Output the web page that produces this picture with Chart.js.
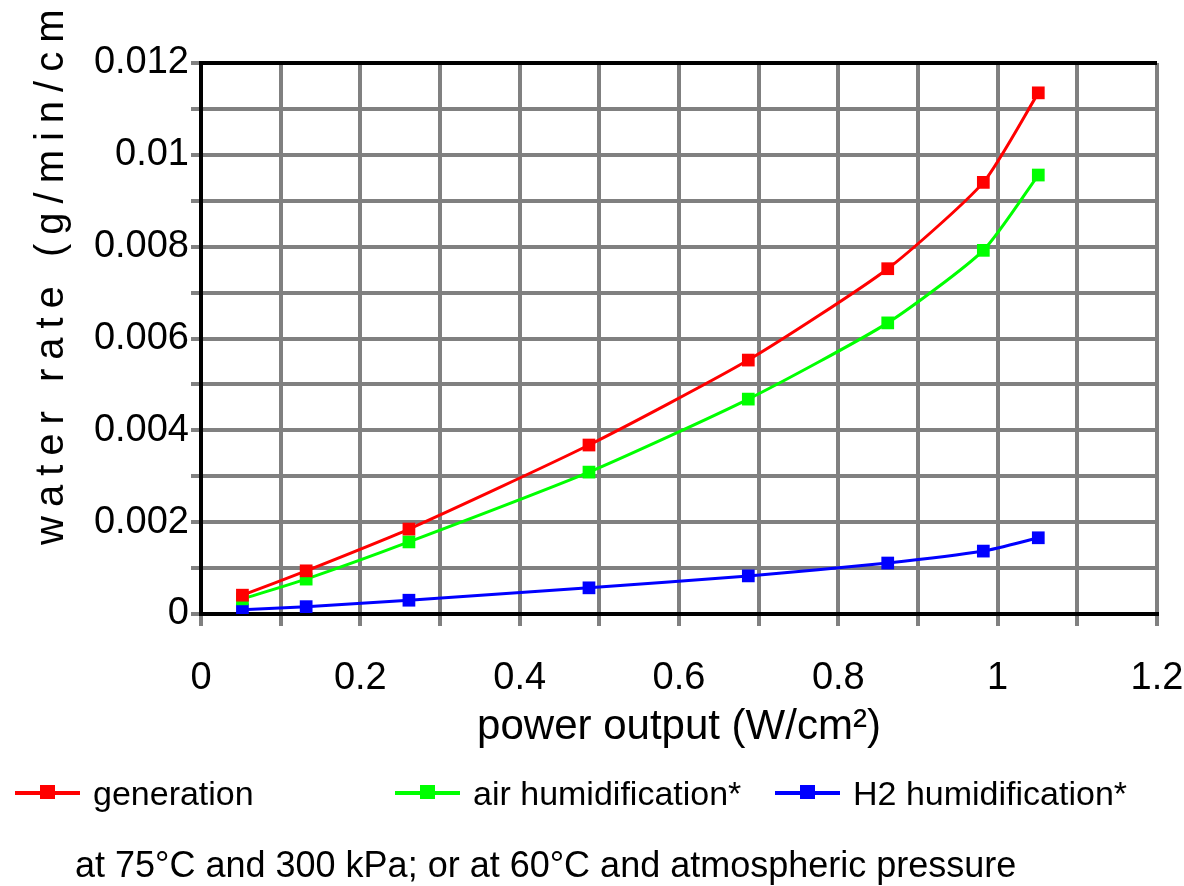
<!DOCTYPE html>
<html>
<head>
<meta charset="utf-8">
<script src="https://cdn.jsdelivr.net/npm/chart.js@4.4.1/dist/chart.umd.min.js"></script>
<style>
  html, body { margin: 0; padding: 0; background: #fff; }
  #wrap { position: relative; width: 1184px; height: 886px; overflow: hidden; }
  #chart { position: absolute; left: 0; top: 0; }
  .leg { position: absolute; top: 772px; height: 42px; font-family: "Liberation Sans", Arial, sans-serif; font-size: 34px; color: #000; white-space: nowrap; }
  .leg .mk { position: absolute; left: 0; top: 19px; width: 65px; height: 4px; }
  .leg .mk i { position: absolute; left: 25px; top: -6px; width: 15px; height: 14px; }
  .leg span { position: absolute; left: 78px; top: 0; line-height: 42px; }
  #note { position: absolute; left: 75px; top: 845px; font-family: "Liberation Sans", Arial, sans-serif; font-size: 36px; line-height: 40px; white-space: nowrap; }
</style>
</head>
<body>
<div id="wrap">
  <canvas id="chart" width="1184" height="886"></canvas>
  <div id="legend"></div>
  <div id="note">at 75°C and 300 kPa; or at 60°C and atmospheric pressure</div>
</div>
<script>
// power output (W/cm2)
const power_Output = [0.052, 0.132, 0.261, 0.487, 0.687, 0.862, 0.982, 1.051];

// water rates (g/min/cm2)
const generation = [0.00041, 0.00094, 0.00185, 0.00368, 0.00553, 0.00752, 0.00940, 0.01135];
const air_Humidification = [0.00033, 0.00076, 0.00157, 0.00309, 0.00468, 0.00634, 0.00792, 0.00956];
const h2_Humidification = [0.00009, 0.00016, 0.00030, 0.00057, 0.00083, 0.00111, 0.00137, 0.00166];

const series_Names = ["generation", "air humidification*", "H2 humidification*"];
const series_Colors = ["#ff0000", "#00ff00", "#0000ff"];

// tick labels
const x_Tick_Labels = ["0", "0.2", "0.4", "0.6", "0.8", "1", "1.2"];
const y_Tick_Labels = ["0", "0.002", "0.004", "0.006", "0.008", "0.01", "0.012"];

const font_Family = '"Liberation Sans", Arial, sans-serif';

function make_Points(ys) {
    return power_Output.map((x, i) => ({ x: x, y: ys[i] }));
}

const all_Series = [generation, air_Humidification, h2_Humidification];

// Y axis title, letter spaced like the original (runs off the top)
const y_Title_Plugin = {
    id: "yTitle",
    afterDraw(chart) {
        const ctx = chart.ctx;
        ctx.save();
        ctx.translate(63, 545);
        ctx.rotate(-Math.PI / 2);
        ctx.font = "40px " + font_Family;
        ctx.letterSpacing = "9px";
        ctx.fillStyle = "#000";
        ctx.textAlign = "left";
        ctx.textBaseline = "alphabetic";
        ctx.fillText("water rate (g/min/cm²)", 0, 0);
        ctx.restore();
    }
};

// black line on top of plot area
const top_Border_Plugin = {
    id: "topBorder",
    beforeDatasetsDraw(chart) {
        const { ctx, chartArea } = chart;
        ctx.save();
        ctx.strokeStyle = "#000";
        ctx.lineWidth = 4;
        ctx.beginPath();
        ctx.moveTo(chartArea.left - 2, chartArea.top);
        ctx.lineTo(chartArea.right, chartArea.top);
        ctx.stroke();
        ctx.restore();
    }
};

const ctx = document.getElementById("chart").getContext("2d");
new Chart(ctx, {
    type: "line",
    data: {
        datasets: all_Series.map((ys, i) => ({
            label: series_Names[i],
            data: make_Points(ys),
            borderColor: series_Colors[i],
            backgroundColor: series_Colors[i],
            borderWidth: 3,
            pointStyle: "rect",
            pointRadius: 9,
            pointBorderWidth: 0,
            tension: 0.2,
            fill: false
        }))
    },
    options: {
        responsive: false,
        animation: false,
        layout: { padding: { left: 0, right: 27, top: 63, bottom: 132 } },
        plugins: { legend: { display: false }, tooltip: { enabled: false } },
        scales: {
            x: {
                type: "linear",
                min: 0,
                max: 1.2,
                afterFit(scale) {
                    scale.height = 140;
                    scale.paddingLeft = 0;
                    scale.paddingRight = 0;
                },
                grid: { color: "#808080", lineWidth: 4, tickLength: 12, tickColor: "#808080", tickWidth: 4 },
                border: { color: "#000", width: 4 },
                ticks: {
                    stepSize: 0.1,
                    autoSkip: false,
                    maxRotation: 0,
                    padding: 30,
                    color: "#000",
                    font: { family: font_Family, size: 38 },
                    callback: (v) => {
                        const k = Math.round(v * 10);
                        return k % 2 === 0 ? x_Tick_Labels[k / 2] : "";
                    }
                },
                title: {
                    display: true,
                    text: "power output (W/cm²)",
                    color: "#000",
                    font: { family: font_Family, size: 42 },
                    padding: { top: 0, bottom: 1 }
                }
            },
            y: {
                type: "linear",
                min: 0,
                max: 0.012,
                afterFit(scale) { scale.width = 201; },
                grid: { color: "#808080", lineWidth: 4, tickLength: 10, tickColor: "#808080", tickWidth: 4 },
                border: { color: "#000", width: 4 },
                ticks: {
                    stepSize: 0.001,
                    autoSkip: false,
                    padding: 2,
                    color: "#000",
                    font: { family: font_Family, size: 38 },
                    callback: (v) => {
                        const k = Math.round(v * 1000);
                        return k % 2 === 0 ? y_Tick_Labels[k / 2] : "";
                    }
                }
            }
        }
    },
    plugins: [y_Title_Plugin, top_Border_Plugin]
});

// legend below the chart, three even columns
const legend_Lefts = [15, 395, 775];
document.getElementById("legend").innerHTML = series_Names.map((name, i) => `
    <div class="leg" style="left:${legend_Lefts[i]}px">
        <div class="mk" style="background:${series_Colors[i]}"><i style="background:${series_Colors[i]}"></i></div>
        <span>${name}</span>
    </div>
`).join("");
</script>
</body>
</html>
